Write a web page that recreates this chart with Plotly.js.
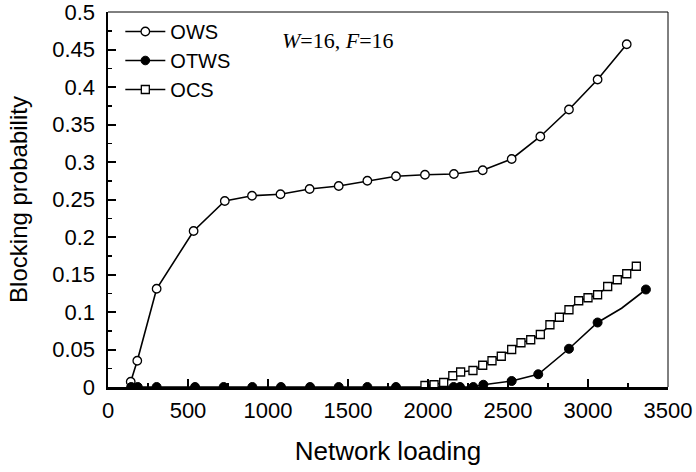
<!DOCTYPE html>
<html>
<head>
<meta charset="utf-8">
<script src="https://cdn.plot.ly/plotly-3.0.1.min.js"></script>
<style>html,body{margin:0;padding:0;background:#fff;}#chart{width:696px;height:472px;}</style>
</head>
<body>
<div id="chart"></div>
<script>
// OWS
const owsX = [142, 183, 304, 535, 730, 900, 1078, 1260, 1442, 1621, 1800, 1981, 2162, 2342, 2523, 2702, 2881, 3060, 3242];
const owsY = [0.007, 0.035, 0.131, 0.208, 0.248, 0.255, 0.257, 0.264, 0.268, 0.275, 0.281, 0.283, 0.284, 0.289, 0.304, 0.334, 0.370, 0.410, 0.457];
// OTWS
const otwsX = [145, 186, 304, 544, 723, 902, 1081, 1263, 1442, 1621, 1800, 2098, 2160, 2200, 2283, 2346, 2523, 2689, 2881, 3060, 3210, 3362];
const otwsY = [0, 0, 0, 0, 0, 0, 0, 0, 0, 0, 0, 0, 0, 0, 0, 0.003, 0.008, 0.017, 0.051, 0.086, 0.105, 0.130];
// OCS
const ocsX = [1981, 2038, 2098, 2155, 2204, 2281, 2342, 2400, 2458, 2523, 2581, 2642, 2702, 2762, 2821, 2881, 2942, 3000, 3060, 3123, 3183, 3242, 3302];
const ocsY = [0.002, 0.003, 0.006, 0.015, 0.020, 0.022, 0.029, 0.035, 0.041, 0.050, 0.059, 0.063, 0.070, 0.083, 0.093, 0.103, 0.115, 0.119, 0.123, 0.134, 0.143, 0.151, 0.161];
// vertices of the OTWS line drawn without a marker
const otwsPlainVertices = [3210];

const xTicks = [0, 500, 1000, 1500, 2000, 2500, 3000, 3500];
const yTicks = [0, 0.05, 0.1, 0.15, 0.2, 0.25, 0.3, 0.35, 0.4, 0.45, 0.5];

const FONT = 'Arial, "Liberation Sans", sans-serif';

const traces = [
  {x: owsX, y: owsY, name: 'OWS', mode: 'lines+markers', type: 'scatter',
   line: {color: '#000', width: 1.6},
   marker: {symbol: 'circle', size: 8.5, opacity: 1, color: '#fff', line: {color: '#000', width: 1.3}}},
  {x: otwsX, y: otwsY, name: 'OTWS', mode: 'lines+markers', type: 'scatter',
   line: {color: '#000', width: 1.6},
   marker: {symbol: 'circle', size: otwsX.map(v => otwsPlainVertices.includes(v) ? 0 : 9), opacity: 1, color: '#000', line: {color: '#000', width: 1}}},
  {x: ocsX, y: ocsY, name: 'OCS', mode: 'lines+markers', type: 'scatter',
   line: {color: '#000', width: 1.6},
   marker: {symbol: 'square', size: 8, opacity: 1, color: '#fff', line: {color: '#000', width: 1.3}}}
];

const axisCommon = {
  showgrid: false, zeroline: false, showline: true, linecolor: '#000', linewidth: 2.5,
  ticks: 'inside', ticklen: 8, tickwidth: 2, tickcolor: '#000',
  tickfont: {family: FONT, size: 22, color: '#000'},
  ticklabeloverflow: 'allow',
  minor: {ticks: 'inside', ticklen: 4, tickwidth: 1.5, tickcolor: '#000'}
};

const layout = {
  width: 696, height: 472,
  margin: {l: 108, r: 28, t: 12, b: 85},
  paper_bgcolor: '#fff', plot_bgcolor: '#fff',
  showlegend: true,
  legend: {x: 0.022, y: 1.0, xanchor: 'left', yanchor: 'top', bgcolor: 'rgba(0,0,0,0)',
    font: {family: FONT, size: 20, color: '#000'}, tracegroupgap: 0, itemwidth: 40},
  xaxis: Object.assign({}, axisCommon, {
    range: [0, 3500], tickvals: xTicks, ticktext: xTicks.map(String),
    minor: Object.assign({}, axisCommon.minor, {dtick: 250, tick0: 0}),
    title: {text: 'Network loading', font: {family: FONT, size: 26, color: '#000'}, standoff: 20},
    ticklabelstandoff: 2
  }),
  yaxis: Object.assign({}, axisCommon, {
    range: [0, 0.5], tickvals: yTicks, ticktext: yTicks.map(String),
    minor: Object.assign({}, axisCommon.minor, {dtick: 0.025, tick0: 0}),
    title: {text: 'Blocking probability', font: {family: FONT, size: 24, color: '#000'}, standoff: 18},
    ticklabelstandoff: 6
  }),
  shapes: [
    {type: 'line', xref: 'paper', yref: 'paper', x0: 0, x1: 1, y0: 1, y1: 1, line: {color: '#000', width: 1}},
    {type: 'line', xref: 'paper', yref: 'paper', x0: 1, x1: 1, y0: 0, y1: 1, line: {color: '#000', width: 1}}
  ],
  annotations: [
    {xref: 'paper', yref: 'paper', x: 0.307, y: 0.925, xanchor: 'left', yanchor: 'middle', showarrow: false,
     text: '<i>W</i>=16, <i>F</i>=16', font: {family: '"Liberation Serif", "Times New Roman", serif', size: 22, color: '#000'}}
  ]
};

Plotly.newPlot('chart', traces, layout, {displayModeBar: false, staticPlot: true});
</script>
</body>
</html>
